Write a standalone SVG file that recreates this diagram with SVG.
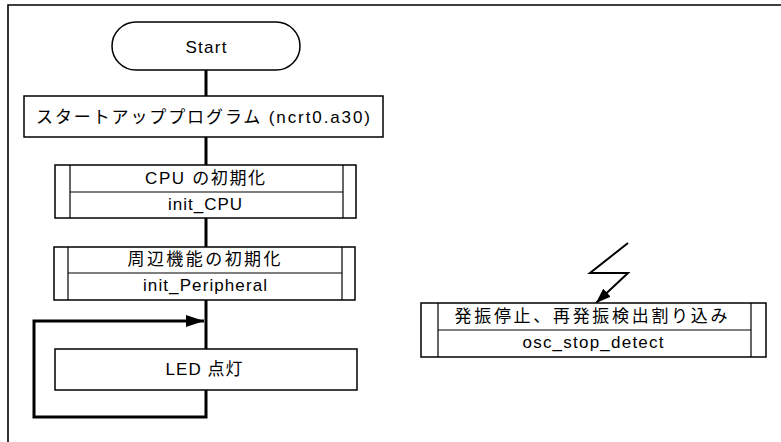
<svg xmlns="http://www.w3.org/2000/svg" width="781" height="442" viewBox="0 0 781 442">
<style>
.box{fill:#fff;stroke:#000;stroke-width:1.5}
.ln{fill:none;stroke:#000;stroke-width:1.2}
.con{fill:none;stroke:#000;stroke-width:3}
text{font-family:"Liberation Sans","Noto Sans CJK JP",sans-serif;font-size:17px;fill:#000;text-anchor:middle}
</style>
<defs>
<marker id="ah" markerWidth="15" markerHeight="11" refX="15" refY="5.5" orient="auto" markerUnits="userSpaceOnUse">
<path d="M0,0 L15,5.5 L0,11 Z" fill="#000"/>
</marker>
<marker id="ah2" markerWidth="18" markerHeight="12" refX="18" refY="6" orient="auto" markerUnits="userSpaceOnUse">
<path d="M0,0 L18,6 L0,12 Z" fill="#000"/>
</marker>
</defs>
<g id="frame">
<path d="M8,442 V5 H781" fill="none" stroke="#000" stroke-width="1.6"/>
</g>
<g id="connectors">
<path class="con" d="M206,70 V96"/>
<path class="con" d="M206,137 V165"/>
<path class="con" d="M206,218 V247"/>
<path class="con" d="M206,300 V349"/>
<path class="con" d="M206,390 V417 H34 V321 H204" marker-end="url(#ah2)"/>
<path d="M628,243 L590,273 H628 L596,303" fill="none" stroke="#000" stroke-width="2" marker-end="url(#ah)"/>
</g>
<g id="start">
<rect class="box" x="112" y="22" width="188" height="48" rx="24"/>
<text x="206" y="53" textLength="41" lengthAdjust="spacing">Start</text>
</g>
<g id="startup">
<rect class="box" x="24" y="96" width="359" height="41"/>
<text x="203" y="123" textLength="334" lengthAdjust="spacing">スタートアッププログラム (ncrt0.a30)</text>
</g>
<g id="init_cpu">
<rect class="box" x="55" y="165" width="301" height="53"/>
<path class="ln" d="M70,165 V218 M343,165 V218 M70,192 H343"/>
<text x="205" y="184" textLength="120" lengthAdjust="spacing">CPU の初期化</text>
<text x="205" y="210" textLength="74" lengthAdjust="spacing">init_CPU</text>
</g>
<g id="init_peripheral">
<rect class="box" x="54" y="247" width="301" height="53"/>
<path class="ln" d="M68,247 V300 M342,247 V300 M68,273 H342"/>
<text x="204" y="265" textLength="153" lengthAdjust="spacing">周辺機能の初期化</text>
<text x="205" y="291" textLength="124" lengthAdjust="spacing">init_Peripheral</text>
</g>
<g id="led">
<rect class="box" x="55" y="349" width="302" height="41"/>
<text x="204" y="375" textLength="77" lengthAdjust="spacing">LED 点灯</text>
</g>
<g id="osc">
<rect class="box" x="421" y="303" width="345" height="54"/>
<path class="ln" d="M438,303 V357 M751,303 V357 M438,330 H751"/>
<text x="591" y="322" textLength="273" lengthAdjust="spacing">発振停止、再発振検出割り込み</text>
<text x="593" y="348" textLength="141" lengthAdjust="spacing">osc_stop_detect</text>
</g>
</svg>
